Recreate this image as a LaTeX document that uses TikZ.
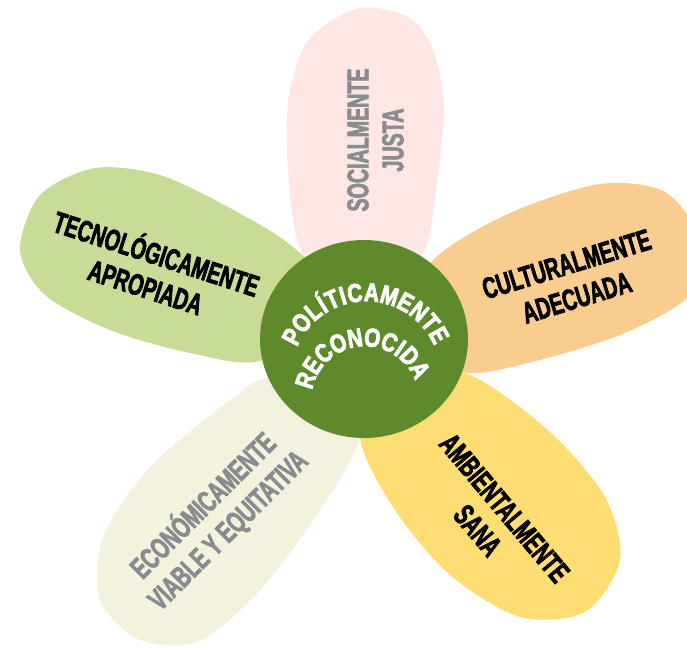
\documentclass[tikz,border=0pt]{standalone}
\usepackage{fontspec}
\newfontfamily\petalfont[FakeStretch=0.655, FakeBold=2.2]{Liberation Sans}
\newfontfamily\centerfont[FakeStretch=0.8, FakeBold=3]{Liberation Sans}
\definecolor{petalpink}{HTML}{FCE7E4}
\definecolor{petalgreen}{HTML}{C9DC97}
\definecolor{petalorange}{HTML}{F9CC90}
\definecolor{petalyellow}{HTML}{FEDD72}
\definecolor{petalcream}{HTML}{F3F2DF}
\definecolor{centergreen}{HTML}{5E8A2B}
\definecolor{labelgray}{HTML}{8A8B8D}

\begin{document}
\begin{tikzpicture}[x=1pt, y=1pt,
    petaltext/.style={font=\petalfont\bfseries\fontsize{30}{35}\selectfont, align=center,
      inner sep=0pt, text height=56.5pt, text depth=0pt},
    arcletter/.style={font=\centerfont\bfseries\fontsize{26}{26}\selectfont, text=white,
      inner sep=0pt, text height=18.6pt, text depth=0pt}]
  \useasboundingbox (0,0) rectangle (687,-649);
  \clip (0,0) rectangle (687,-649);

  \fill[petalpink] plot[smooth cycle] coordinates {(302,-253) (288,-170) (289,-95) (310,-38) (360,-8) (410,-18) (434,-52) (444,-110) (436,-190) (423,-253) (364,-330)};
  \fill[petalgreen] plot[smooth cycle] coordinates {(20,-250) (40,-195) (95,-168) (160,-175) (230,-208) (293,-247) (335,-300) (263,-360) (190,-353) (110,-330) (45,-295)};
  \fill[petalcream] plot[smooth cycle] coordinates {(360,-437) (320,-510) (260,-590) (200,-641) (140,-640) (100,-600) (103,-537) (150,-467) (225,-404) (270,-377) (340,-390)};
  \fill[petalyellow] plot[smooth cycle] coordinates {(360,-437) (395,-510) (450,-575) (520,-617) (585,-612) (620,-560) (605,-497) (550,-432) (470,-375) (380,-360)};
  \fill[petalorange] plot[smooth cycle] coordinates {(433,-260) (510,-213) (600,-184) (665,-192) (700,-240) (690,-295) (620,-335) (520,-365) (460,-372) (380,-340)};

  \fill[centergreen] (364,-339) ellipse[x radius=104, y radius=99];

  \foreach \ch/\ang [count=\i] in {P/152, O/140.4, L/129.2, Í/121.5, T/113.8, I/106.2, C/97.7,
      A/86.1, M/73.7, E/61.7, N/50.5, T/39.7, E/29.2} {
    \node[arcletter, rotate=\ang-90] (pol\i) at ([shift={(366,-376)}]\ang:84) {\ch};
  }
  \foreach \ch/\ang [count=\i] in {R/161.6, E/146.6, C/131.5, O/115.4, N/99.3, O/83.2, C/67.1,
      I/55.7, D/44.4, A/28.8} {
    \node[arcletter, rotate=\ang-90] (rec\i) at ([shift={(365,-400)}]\ang:63) {\ch};
  }

  \node[petaltext, text=labelgray, rotate=90] (social) at (375,-140) {SOCIALMENTE\\JUSTA};
  \node[petaltext, rotate=-18] (tecno) at (151,-270.5) {TECNOLÓGICAMENTE\\APROPIADA};
  \node[petaltext, rotate=17] (cultural) at (571.5,-280.5) {CULTURALMENTE\\ADECUADA};
  \node[petaltext, rotate=-50] (ambiental) at (491.5,-519) {AMBIENTALMENTE\\SANA};
  \node[petaltext, text=labelgray, rotate=45] (economico) at (215,-517.5) {ECONÓMICAMENTE\\VIABLE Y EQUITATIVA};
\end{tikzpicture}
\end{document}
